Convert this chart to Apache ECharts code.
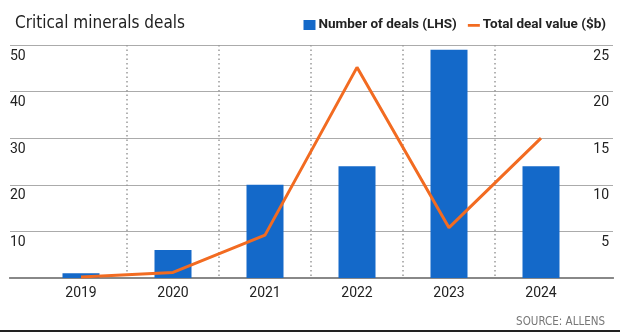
<!DOCTYPE html>
<html>
<head>
<meta charset="utf-8">
<script src="https://cdn.jsdelivr.net/npm/echarts@6/dist/echarts.min.js"></script>
<style>
html,body{margin:0;padding:0;background:#fff;}
#chart{width:620px;height:332px;}
</style>
</head>
<body>
<div id="chart"></div>
<script>
var categories = ['2019', '2020', '2021', '2022', '2023', '2024'];
var dealCounts = [1, 6, 20, 24, 49, 24];
var dealValues = [0.1, 0.6, 4.6, 22.6, 5.4, 15.0];
var leftTicks = { min: 0, max: 50, interval: 10 };
var rightTicks = { min: 0, max: 25, interval: 5 };
var seriesNames = ['Number of deals (LHS)', 'Total deal value ($b)'];

var BLUE = '#1469c9';
var ORANGE = '#f26b21';
var NARROW = "'DejaVu Sans Condensed', 'Liberation Sans Narrow', sans-serif";

var chart = echarts.init(document.getElementById('chart'), null, { renderer: 'canvas' });

var option = {
  animation: false,
  backgroundColor: '#fff',
  title: [
    {
      text: 'Critical minerals deals',
      left: 10, top: 10,
      textStyle: { fontFamily: NARROW, fontWeight: 'normal', fontSize: 17, color: '#222' }
    },
    {
      text: 'SOURCE: ALLENS',
      right: 10, top: 311,
      textStyle: { fontFamily: NARROW, fontWeight: 'normal', fontSize: 11.5, color: '#777' }
    }
  ],
  legend: {
    right: 9, top: 13,
    itemWidth: 12, itemHeight: 10, itemGap: 11,
    textStyle: { fontFamily: 'Roboto', fontWeight: 'bold', fontSize: 13.5, color: '#222', padding: [0, 0, 0, -2] },
    data: [
      { name: seriesNames[0], icon: 'rect' },
      { name: seriesNames[1], icon: 'path://M0,0L0.01,0M0,4L13,4L13,7L0,7ZM13,10L12.99,10' }
    ]
  },
  grid: [
    { left: 35, right: 33, top: 45, bottom: 54 },
    { left: 10, right: 7, top: 45, bottom: 54 }
  ],
  xAxis: [
    {
      type: 'category', gridIndex: 0, data: categories,
      axisLine: { show: false }, axisTick: { show: false },
      axisLabel: { fontFamily: 'Roboto', fontSize: 14, color: '#222', margin: 8 },
      splitLine: {
        show: true, showMinLine: false, showMaxLine: false,
        lineStyle: { color: '#9a9a9a', width: 1.5, type: [1.5, 3] }
      }
    },
    {
      type: 'value', gridIndex: 1, position: 'bottom', min: 0, max: 1,
      axisLine: { show: true, lineStyle: { color: '#888', width: 2 } },
      axisTick: { show: false }, axisLabel: { show: false }, splitLine: { show: false }
    },
    {
      type: 'value', gridIndex: 1, position: 'top', min: 0, max: 1,
      axisLine: { show: true, lineStyle: { color: '#888', width: 2 } },
      axisTick: { show: false }, axisLabel: { show: false }, splitLine: { show: false }
    }
  ],
  yAxis: [
    {
      type: 'value', gridIndex: 0, min: leftTicks.min, max: leftTicks.max, interval: leftTicks.interval, show: false
    },
    {
      type: 'value', gridIndex: 0, min: rightTicks.min, max: rightTicks.max, interval: rightTicks.interval, show: false
    },
    {
      type: 'value', gridIndex: 1, position: 'left',
      min: leftTicks.min, max: leftTicks.max, interval: leftTicks.interval,
      axisLine: { show: false }, axisTick: { show: false },
      axisLabel: {
        inside: true, margin: 0, showMinLabel: false,
        verticalAlign: 'top', align: 'left', padding: [4, 0, 0, 0],
        fontFamily: 'Roboto', fontSize: 14, color: '#222'
      },
      splitLine: { show: true, lineStyle: { color: '#ababab', width: 1 } }
    },
    {
      type: 'value', gridIndex: 1, position: 'right',
      min: rightTicks.min, max: rightTicks.max, interval: rightTicks.interval,
      axisLine: { show: false }, axisTick: { show: false },
      axisLabel: {
        inside: true, margin: 4, showMinLabel: false,
        verticalAlign: 'top', align: 'right', padding: [4, 0, 0, 0],
        fontFamily: 'Roboto', fontSize: 14, color: '#222'
      },
      splitLine: { show: false }
    }
  ],
  series: [
    {
      name: seriesNames[0], type: 'bar', xAxisIndex: 0, yAxisIndex: 0,
      data: dealCounts, barWidth: 37,
      itemStyle: { color: BLUE }, z: 3
    },
    {
      name: seriesNames[1], type: 'line', xAxisIndex: 0, yAxisIndex: 1,
      data: dealValues, symbol: 'none',
      lineStyle: { color: ORANGE, width: 3 }, itemStyle: { color: ORANGE }, z: 4
    }
  ],
  graphic: [
    { type: 'rect', left: 0, bottom: 0, shape: { width: 620, height: 2 }, style: { fill: '#222' } }
  ]
};
chart.setOption(option);
</script>
</body>
</html>
